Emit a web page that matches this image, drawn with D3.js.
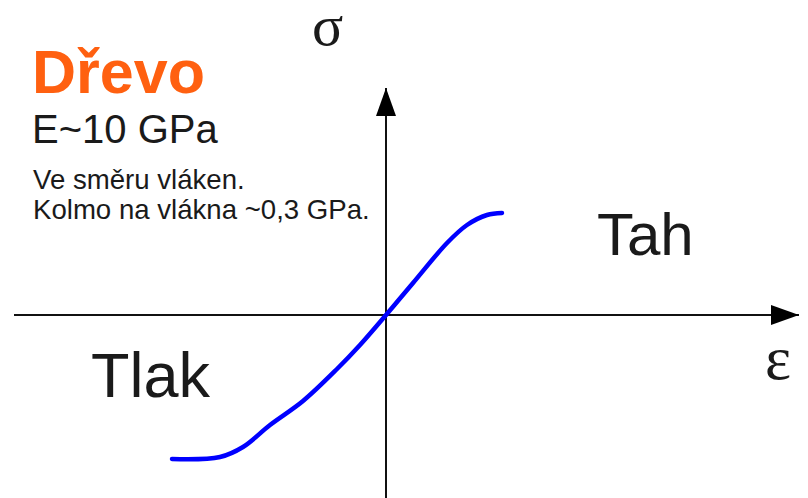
<!DOCTYPE html>
<html>
<head>
<meta charset="utf-8">
<script src="https://cdn.jsdelivr.net/npm/d3@7"></script>
<style>
  html, body { margin: 0; padding: 0; background: #fff; }
  svg { display: block; }
</style>
</head>
<body>
<svg id="chart" width="808" height="498"></svg>
<script>
// Stress–strain curve of wood (relative units: strain ε, stress σ)
const strain = [-2.14, -1.66, -1.43, -1.16, -0.83, -0.49, -0.26, 0, 0.27, 0.61, 0.81, 1.01, 1.16];
const stress = [-1.44, -1.42, -1.32, -1.10, -0.86, -0.54, -0.30, 0, 0.32, 0.72, 0.90, 1.00, 1.02];

// Texts
const title = "Dřevo";
const modulus = "E~10 GPa";
const notes = ["Ve směru vláken.", "Kolmo na vlákna ~0,3 GPa."];
const axisLabels = { x: "ε", y: "σ" };
const regionLabels = { tension: "Tah", compression: "Tlak" };

const svg = d3.select("#chart");

const x = d3.scaleLinear().domain([-3.72, 4.13]).range([14, 799]);
const y = d3.scaleLinear().domain([-1.83, 2.27]).range([498, 88]);

const defs = svg.append("defs");
defs.append("marker")
  .attr("id", "arrow")
  .attr("viewBox", "0 0 28 20")
  .attr("refX", 28).attr("refY", 10)
  .attr("markerWidth", 28).attr("markerHeight", 20)
  .attr("markerUnits", "userSpaceOnUse")
  .attr("orient", "auto")
  .append("path")
  .attr("d", "M0,0 L28,10 L0,20 Z")
  .attr("fill", "#000");

// Axes through the origin
svg.append("line")
  .attr("x1", x.range()[0]).attr("x2", x.range()[1])
  .attr("y1", y(0)).attr("y2", y(0))
  .attr("stroke", "#111").attr("stroke-width", 2)
  .attr("marker-end", "url(#arrow)");

svg.append("line")
  .attr("x1", x(0)).attr("x2", x(0))
  .attr("y1", y.range()[0]).attr("y2", y.range()[1])
  .attr("stroke", "#111").attr("stroke-width", 2)
  .attr("marker-end", "url(#arrow)");

// Curve
const pts = strain.map((e, i) => [e, stress[i]]);
const line = d3.line()
  .x(d => x(d[0]))
  .y(d => y(d[1]))
  .curve(d3.curveCatmullRom.alpha(0.5));

svg.append("path")
  .datum(pts)
  .attr("d", line)
  .attr("fill", "none")
  .attr("stroke", "#0000ff")
  .attr("stroke-width", 4.5)
  .attr("stroke-linecap", "round");

// Axis symbols
svg.append("text")
  .attr("x", 312).attr("y", 45)
  .attr("font-family", "'Liberation Serif', serif")
  .attr("font-size", 58)
  .attr("fill", "#1a1a1a")
  .text(axisLabels.y);

svg.append("text")
  .attr("x", 765).attr("y", 379)
  .attr("font-family", "'Liberation Serif', serif")
  .attr("font-size", 62)
  .attr("fill", "#1a1a1a")
  .text(axisLabels.x);

// Region labels
const sans = "'Liberation Sans', Arial, sans-serif";
svg.append("text")
  .attr("x", 597).attr("y", 255)
  .attr("font-family", sans).attr("font-size", 60)
  .attr("fill", "#1a1a1a")
  .text(regionLabels.tension);

svg.append("text")
  .attr("x", 91).attr("y", 397)
  .attr("font-family", sans).attr("font-size", 63)
  .attr("fill", "#1a1a1a")
  .text(regionLabels.compression);

// Title block
svg.append("text")
  .attr("x", 32).attr("y", 93)
  .attr("font-family", sans).attr("font-size", 61).attr("font-weight", "bold")
  .attr("fill", "#ff6010")
  .text(title);

svg.append("text")
  .attr("x", 32).attr("y", 143)
  .attr("font-family", sans).attr("font-size", 40)
  .attr("fill", "#1a1a1a")
  .text(modulus);

svg.selectAll("text.note")
  .data(notes)
  .enter().append("text")
  .attr("class", "note")
  .attr("x", 33)
  .attr("y", (d, i) => 189 + i * 30)
  .attr("font-family", sans).attr("font-size", 27.6)
  .attr("fill", "#1a1a1a")
  .text(d => d);
</script>
</body>
</html>
